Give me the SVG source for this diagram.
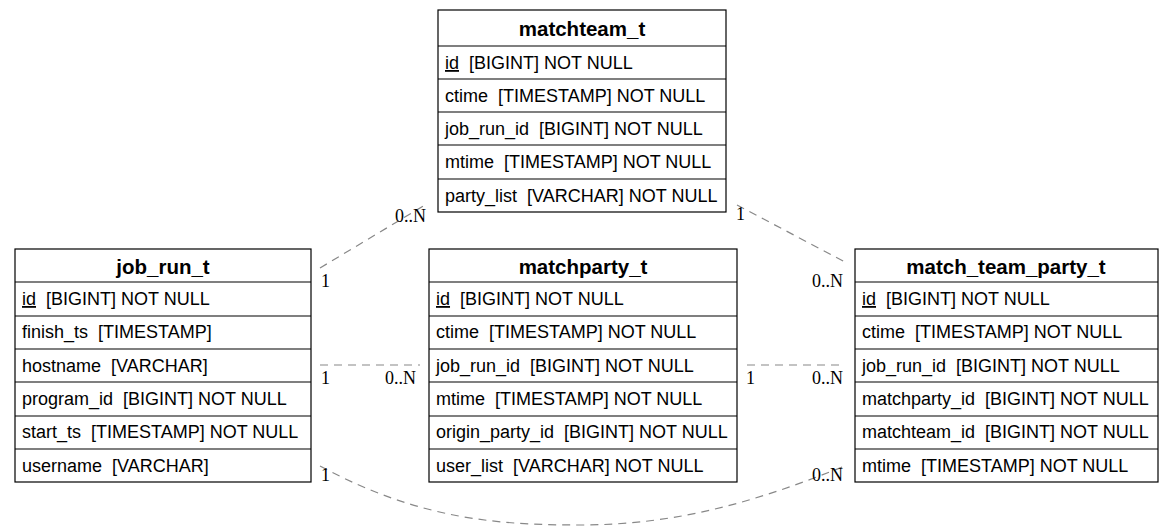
<svg xmlns="http://www.w3.org/2000/svg" width="1175" height="531" viewBox="0 0 1175 531" xml:space="preserve">
<style>
.box{fill:#fff;stroke:#000;stroke-width:1.2}
.sep{stroke:#000;stroke-width:1.2}
.h{font-family:"Liberation Sans",Arial,sans-serif;font-size:20.5px;font-weight:bold;text-anchor:middle;fill:#000}
.t{font-family:"Liberation Sans",Arial,sans-serif;font-size:18px;fill:#000;white-space:pre}
.e{fill:none;stroke:#888;stroke-width:1.2;stroke-dasharray:8,6}
.l{font-family:"Liberation Serif","Times New Roman",serif;font-size:18px;fill:#000}
</style>
<g id="connectors">
<path class="e" d="M320,268 L425,205"/>
<path class="e" d="M737,205 L845,262"/>
<path class="e" d="M320,365 L420,365"/>
<path class="e" d="M747,365 L845,365"/>
<path class="e" d="M320,466 C420,520 500,525 580,525 C680,525 760,500 845,466"/>
<text class="l" x="321" y="287">1</text>
<text class="l" x="395" y="222">0..N</text>
<text class="l" x="736" y="220">1</text>
<text class="l" x="812" y="287">0..N</text>
<text class="l" x="321" y="384">1</text>
<text class="l" x="385" y="384">0..N</text>
<text class="l" x="746" y="384">1</text>
<text class="l" x="812" y="384">0..N</text>
<text class="l" x="321" y="481">1</text>
<text class="l" x="812" y="481">0..N</text>
</g>
<g id="matchteam_t">
<rect class="box" x="438" y="10" width="288" height="202"/>
<line class="sep" x1="438" y1="46" x2="726" y2="46"/>
<line class="sep" x1="438" y1="79" x2="726" y2="79"/>
<line class="sep" x1="438" y1="112" x2="726" y2="112"/>
<line class="sep" x1="438" y1="145" x2="726" y2="145"/>
<line class="sep" x1="438" y1="179" x2="726" y2="179"/>
<text class="h" x="582" y="36">matchteam_t</text>
<text class="t" x="445" y="69"><tspan text-decoration="underline">id</tspan>  [BIGINT] NOT NULL</text>
<text class="t" x="445" y="102">ctime  [TIMESTAMP] NOT NULL</text>
<text class="t" x="445" y="135">job_run_id  [BIGINT] NOT NULL</text>
<text class="t" x="445" y="168">mtime  [TIMESTAMP] NOT NULL</text>
<text class="t" x="445" y="202">party_list  [VARCHAR] NOT NULL</text>
</g>
<g id="job_run_t">
<rect class="box" x="15" y="249" width="296" height="233"/>
<line class="sep" x1="15" y1="282" x2="311" y2="282"/>
<line class="sep" x1="15" y1="316" x2="311" y2="316"/>
<line class="sep" x1="15" y1="349" x2="311" y2="349"/>
<line class="sep" x1="15" y1="382" x2="311" y2="382"/>
<line class="sep" x1="15" y1="416" x2="311" y2="416"/>
<line class="sep" x1="15" y1="449" x2="311" y2="449"/>
<text class="h" x="163" y="274">job_run_t</text>
<text class="t" x="22" y="305"><tspan text-decoration="underline">id</tspan>  [BIGINT] NOT NULL</text>
<text class="t" x="22" y="338">finish_ts  [TIMESTAMP]</text>
<text class="t" x="22" y="372">hostname  [VARCHAR]</text>
<text class="t" x="22" y="405">program_id  [BIGINT] NOT NULL</text>
<text class="t" x="22" y="438">start_ts  [TIMESTAMP] NOT NULL</text>
<text class="t" x="22" y="472">username  [VARCHAR]</text>
</g>
<g id="matchparty_t">
<rect class="box" x="429" y="249" width="308" height="233"/>
<line class="sep" x1="429" y1="282" x2="737" y2="282"/>
<line class="sep" x1="429" y1="316" x2="737" y2="316"/>
<line class="sep" x1="429" y1="349" x2="737" y2="349"/>
<line class="sep" x1="429" y1="382" x2="737" y2="382"/>
<line class="sep" x1="429" y1="416" x2="737" y2="416"/>
<line class="sep" x1="429" y1="449" x2="737" y2="449"/>
<text class="h" x="583" y="274">matchparty_t</text>
<text class="t" x="436" y="305"><tspan text-decoration="underline">id</tspan>  [BIGINT] NOT NULL</text>
<text class="t" x="436" y="338">ctime  [TIMESTAMP] NOT NULL</text>
<text class="t" x="436" y="372">job_run_id  [BIGINT] NOT NULL</text>
<text class="t" x="436" y="405">mtime  [TIMESTAMP] NOT NULL</text>
<text class="t" x="436" y="438">origin_party_id  [BIGINT] NOT NULL</text>
<text class="t" x="436" y="472">user_list  [VARCHAR] NOT NULL</text>
</g>
<g id="match_team_party_t">
<rect class="box" x="855" y="249" width="303" height="233"/>
<line class="sep" x1="855" y1="282" x2="1158" y2="282"/>
<line class="sep" x1="855" y1="316" x2="1158" y2="316"/>
<line class="sep" x1="855" y1="349" x2="1158" y2="349"/>
<line class="sep" x1="855" y1="382" x2="1158" y2="382"/>
<line class="sep" x1="855" y1="416" x2="1158" y2="416"/>
<line class="sep" x1="855" y1="449" x2="1158" y2="449"/>
<text class="h" x="1006" y="274">match_team_party_t</text>
<text class="t" x="862" y="305"><tspan text-decoration="underline">id</tspan>  [BIGINT] NOT NULL</text>
<text class="t" x="862" y="338">ctime  [TIMESTAMP] NOT NULL</text>
<text class="t" x="862" y="372">job_run_id  [BIGINT] NOT NULL</text>
<text class="t" x="862" y="405">matchparty_id  [BIGINT] NOT NULL</text>
<text class="t" x="862" y="438">matchteam_id  [BIGINT] NOT NULL</text>
<text class="t" x="862" y="472">mtime  [TIMESTAMP] NOT NULL</text>
</g>
</svg>
